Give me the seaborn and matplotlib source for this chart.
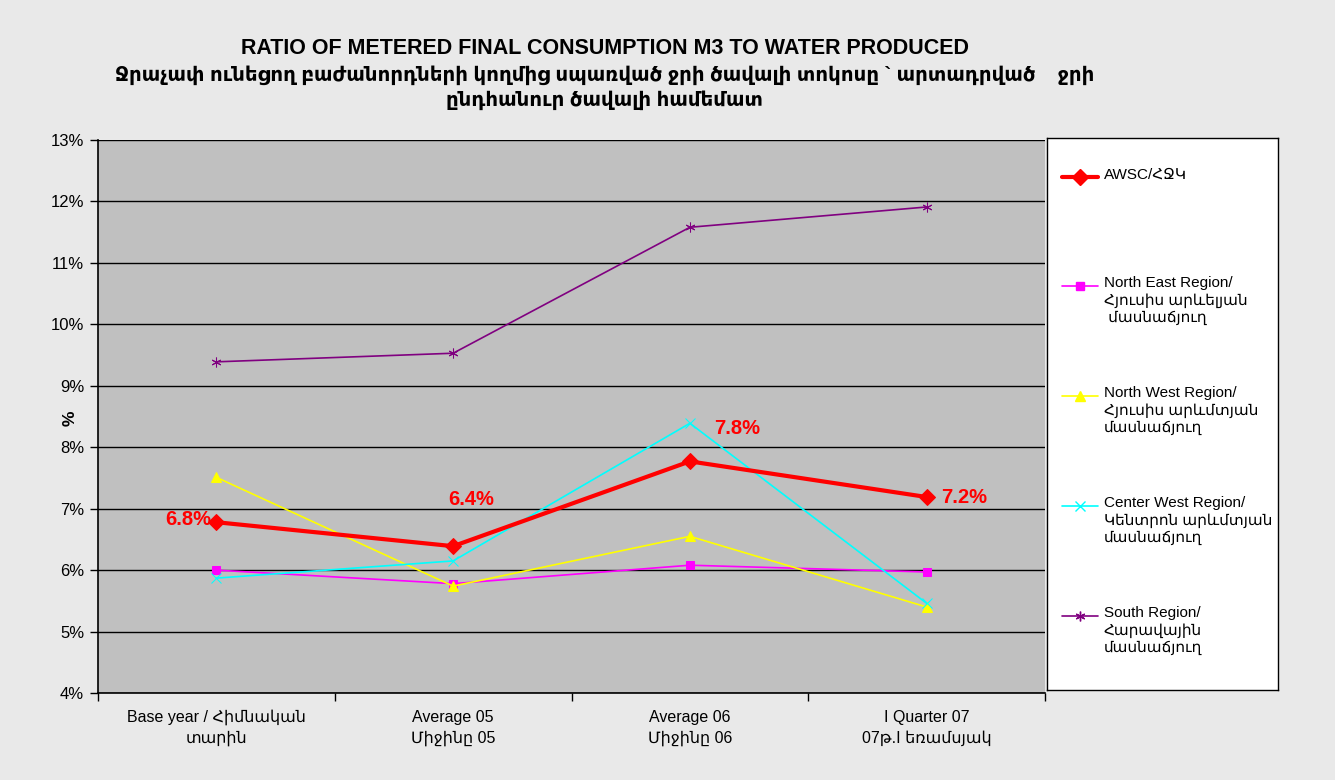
import numpy as np
import pandas as pd
import matplotlib
matplotlib.use("Agg")
import matplotlib.pyplot as plt
from matplotlib.ticker import FuncFormatter, FixedLocator
import seaborn as sns

# Data (percent)
periods = ["Base year / Հիմնական\nտարին", "Average 05\nՄիջինը 05",
           "Average 06\nՄիջինը 06", "I Quarter 07\n07թ.I եռամսյակ"]
awsc = [6.78, 6.39, 7.77, 7.19]
north_east = [6.00, 5.78, 6.08, 5.97]
north_west = [7.51, 5.74, 6.55, 5.40]
center_west = [5.87, 6.15, 8.39, 5.46]
south = [9.39, 9.53, 11.58, 11.91]

labels = ["AWSC/ՀՋԿ",
          "North East Region/\nՀյուսիս արևելյան\n մասնաճյուղ",
          "North West Region/\nՀյուսիս արևմտյան\nմասնաճյուղ",
          "Center West Region/\nԿենտրոն արևմտյան\nմասնաճյուղ",
          "South Region/\nՀարավային\nմասնաճյուղ"]

sns.set_style("white")
plt.rcParams["font.family"] = ["Liberation Sans", "DejaVu Sans"]
for k in ["text.color", "axes.labelcolor", "xtick.color", "ytick.color"]:
    plt.rcParams[k] = "black"

df = pd.DataFrame({"period": periods, "awsc": awsc, "ne": north_east,
                   "nw": north_west, "cw": center_west, "s": south})

# style per series: column, color, marker, line width, marker size
styles = [
    ("awsc", "#ff0000", "D", 3.0, 8),
    ("ne", "#ff00ff", "s", 1.2, 6),
    ("nw", "#ffff00", "^", 1.2, 7),
    ("cw", "#00ffff", "x", 1.2, 7),
    ("s", "#800080", (6, 2, 0), 1.2, 7),
]

fig = plt.figure(figsize=(13.35, 7.8), dpi=100)
fig.patch.set_facecolor("#e9e9e9")
ax = fig.add_axes([0.0734, 0.1115, 0.7094, 0.709])
ax.set_facecolor("#c0c0c0")

# draw thin series first, AWSC on top
for col, color, marker, lw, ms in styles[1:] + styles[:1]:
    sns.lineplot(data=df, x="period", y=col, ax=ax, color=color, marker=marker,
                 lw=lw, markersize=ms, markeredgecolor=color, sort=False,
                 zorder=4 if col == "awsc" else 3)

# value labels for AWSC
offsets = [(-5, 3, "right"), (18, 47, "center"), (47, 33, "center"), (14, 0, "left")]
for i, (dx, dy, ha) in enumerate(offsets):
    ax.annotate(f"{awsc[i]:.1f}%", (i, awsc[i]), xytext=(dx, dy),
                textcoords="offset pixels", ha=ha, va="center",
                color="#ff0000", fontsize=14.5, fontweight="bold", zorder=5)

ax.set_xlim(-0.5, 3.5)
ax.set_ylim(4, 13)
ax.yaxis.set_major_locator(FixedLocator(np.arange(4, 14)))
ax.yaxis.set_major_formatter(FuncFormatter(lambda v, p: f"{v:.0f}%"))
ax.grid(axis="y", color="black", lw=1.0)
ax.set_axisbelow(True)
ax.set_xlabel("")
ax.set_ylabel("%", fontsize=12.5, fontweight="bold")
ax.yaxis.set_label_coords(-0.021, 0.497)
ax.tick_params(axis="y", labelsize=12, length=6, width=1, direction="out",
               left=True, color="black", pad=4)
ax.tick_params(axis="x", which="major", labelsize=11.5, length=0, pad=12)
for t in ax.get_xticklabels():
    t.set_linespacing(1.45)
ax.set_xticks(np.arange(-0.5, 4, 1.0), minor=True)
ax.tick_params(axis="x", which="minor", length=6, width=1, color="black", bottom=True)
for side in ["top", "right"]:
    ax.spines[side].set_visible(False)
for side in ["left", "bottom"]:
    ax.spines[side].set_color("black")
    ax.spines[side].set_linewidth(1.2)

# title
fig.text(0.453, 0.938, "RATIO OF METERED FINAL CONSUMPTION M3 TO WATER PRODUCED",
         ha="center", va="center", fontsize=15.5, fontweight="bold")
fig.text(0.453, 0.904, "Ջրաչափ ունեցող բաժանորդների կողմից սպառված ջրի ծավալի տոկոսը ` արտադրված    ջրի",
         ha="center", va="center", fontsize=14.2, fontweight="bold")
fig.text(0.453, 0.871, "ընդհանուր ծավալի համեմատ",
         ha="center", va="center", fontsize=14.2, fontweight="bold")

# legend box
lax = fig.add_axes([1047 / 1335, 1 - 690 / 780, 231 / 1335, 552 / 780])
lax.set_xlim(0, 1)
lax.set_ylim(0, 1)
lax.set_facecolor("white")
lax.set_xticks([])
lax.set_yticks([])
for sp in lax.spines.values():
    sp.set_color("black")
    sp.set_linewidth(1.0)
entry_y = [0.929, 0.732, 0.533, 0.333, 0.134]
for (col, color, marker, lw, ms), lab, y in zip(styles, labels, entry_y):
    lax.plot([0.065, 0.22], [y, y], color=color, lw=lw)
    lax.plot([0.1425], [y], color=color, marker=marker, markersize=ms,
             markeredgecolor=color)
    lax.text(0.245, y + 0.018, lab, ha="left", va="top", fontsize=11,
             linespacing=1.28)

fig.savefig("out.png", dpi=100, facecolor=fig.get_facecolor())
